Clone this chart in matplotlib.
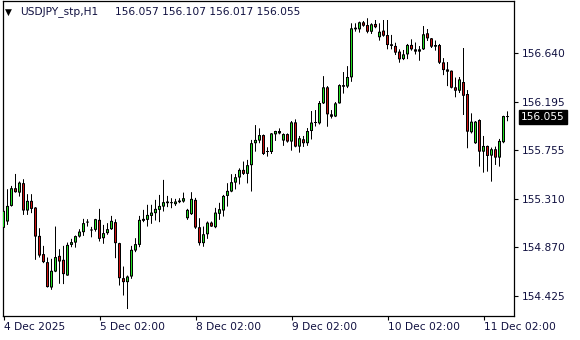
import matplotlib
matplotlib.use('Agg')
import matplotlib.pyplot as plt

# hourly candles, USDJPY_stp H1, 4 Dec 02:00 .. 11 Dec
opens = [155.046, 155.104, 155.246, 155.407, 155.367, 155.453, 155.204, 155.292, 155.231, 154.973,
         154.807, 154.734, 154.503, 154.648, 154.791, 154.755, 154.612, 154.891, 154.912, 154.967,
         155.007, 155.094, 155.022, 155.028, 155.119, 154.952, 154.998, 155.034, 155.098, 154.907,
         154.588, 154.552, 154.603, 154.840, 154.891, 155.110, 155.119, 155.155, 155.180, 155.210,
         155.240, 155.271, 155.271, 155.262, 155.280, 155.286, 155.134, 155.171, 155.301, 155.052,
         154.907, 154.988, 155.094, 155.052, 155.174, 155.204, 155.337, 155.377, 155.458, 155.505,
         155.574, 155.538, 155.617, 155.817, 155.841, 155.891, 155.737, 155.737, 155.898, 155.928,
         155.841, 155.900, 155.832, 156.007, 155.786, 155.853, 155.817, 155.928, 156.001, 155.998,
         156.180, 156.326, 156.080, 156.060, 156.180, 156.331, 156.333, 156.417, 156.854, 156.854,
         156.918, 156.893, 156.832, 156.903, 156.782, 156.842, 156.802, 156.718, 156.703, 156.651,
         156.583, 156.626, 156.712, 156.672, 156.651, 156.672, 156.818, 156.772, 156.711, 156.711,
         156.553, 156.489, 156.477, 156.326, 156.295, 156.374, 156.265, 155.917, 155.817, 156.028,
         155.740, 155.792, 155.704, 155.762, 155.686, 155.826, 156.057]
highs = [155.246, 155.398, 155.428, 155.537, 155.468, 155.489, 155.353, 155.353, 155.235, 155.043,
         154.882, 154.776, 154.764, 155.058, 154.852, 154.882, 154.912, 154.946, 154.976, 155.034,
         155.128, 155.125, 155.055, 155.128, 155.219, 155.073, 155.089, 155.155, 155.124, 154.910,
         154.694, 154.612, 154.882, 154.952, 155.155, 155.210, 155.256, 155.256, 155.301, 155.346,
         155.483, 155.337, 155.316, 155.310, 155.316, 155.367, 155.219, 155.371, 155.319, 155.134,
         155.058, 155.104, 155.104, 155.228, 155.274, 155.346, 155.453, 155.535, 155.537, 155.588,
         155.650, 155.665, 155.847, 155.982, 155.952, 155.896, 155.780, 155.909, 155.930, 155.952,
         155.906, 155.906, 156.019, 156.034, 155.883, 155.883, 155.955, 156.110, 156.119, 156.201,
         156.428, 156.337, 156.119, 156.192, 156.353, 156.465, 156.519, 156.909, 156.909, 156.924,
         156.930, 156.955, 156.909, 156.939, 156.909, 156.939, 156.939, 156.803, 156.732, 156.672,
         156.666, 156.721, 156.763, 156.734, 156.702, 156.884, 156.857, 156.775, 156.752, 156.721,
         156.592, 156.556, 156.479, 156.415, 156.420, 156.684, 156.301, 156.089, 156.019, 156.034,
         155.883, 155.795, 155.777, 155.786, 155.856, 156.067, 156.107]
lows = [155.001, 155.073, 155.240, 155.367, 155.331, 155.164, 155.164, 155.180, 154.755, 154.776,
        154.725, 154.503, 154.482, 154.643, 154.537, 154.534, 154.610, 154.870, 154.866, 154.958,
        154.973, 155.058, 154.960, 155.012, 154.922, 154.901, 154.983, 155.028, 154.770, 154.521,
        154.430, 154.307, 154.582, 154.825, 154.870, 155.098, 155.058, 155.083, 155.113, 155.098,
        155.195, 155.235, 155.225, 155.246, 155.271, 155.276, 155.119, 155.164, 155.037, 154.885,
        154.874, 154.946, 155.055, 155.043, 155.119, 155.149, 155.240, 155.371, 155.396, 155.442,
        155.528, 155.451, 155.377, 155.740, 155.817, 155.710, 155.695, 155.719, 155.838, 155.898,
        155.793, 155.822, 155.749, 155.780, 155.731, 155.783, 155.793, 155.851, 155.969, 155.987,
        156.174, 155.967, 156.042, 156.055, 156.178, 156.269, 156.319, 156.376, 156.833, 156.824,
        156.878, 156.818, 156.812, 156.864, 156.751, 156.787, 156.672, 156.672, 156.620, 156.550,
        156.574, 156.583, 156.660, 156.625, 156.568, 156.666, 156.748, 156.684, 156.660, 156.538,
        156.437, 156.337, 156.316, 156.235, 156.274, 156.074, 155.771, 155.906, 155.811, 155.604,
        155.549, 155.558, 155.467, 155.619, 155.604, 155.817, 156.017]
closes = [155.201, 155.246, 155.407, 155.371, 155.458, 155.204, 155.292, 155.219, 154.967, 154.794,
          154.734, 154.507, 154.655, 154.780, 154.740, 154.625, 154.891, 154.916, 154.971, 155.012,
          155.089, 155.096, 155.024, 155.125, 154.946, 154.998, 155.034, 155.110, 154.907, 154.588,
          154.552, 154.603, 154.846, 154.898, 155.119, 155.128, 155.164, 155.185, 155.219, 155.246,
          155.280, 155.286, 155.273, 155.286, 155.295, 155.316, 155.210, 155.310, 155.049, 154.907,
          154.988, 155.094, 155.058, 155.185, 155.216, 155.337, 155.383, 155.462, 155.507, 155.574,
          155.538, 155.617, 155.817, 155.847, 155.891, 155.719, 155.739, 155.906, 155.928, 155.906,
          155.900, 155.832, 156.007, 155.786, 155.862, 155.817, 155.928, 156.005, 156.010, 156.183,
          156.326, 156.080, 156.058, 156.180, 156.346, 156.346, 156.420, 156.863, 156.869, 156.918,
          156.887, 156.832, 156.900, 156.873, 156.832, 156.796, 156.711, 156.703, 156.642, 156.581,
          156.626, 156.712, 156.672, 156.651, 156.672, 156.809, 156.772, 156.696, 156.696, 156.550,
          156.483, 156.468, 156.322, 156.295, 156.398, 156.249, 155.922, 156.013, 156.013, 155.740,
          155.792, 155.701, 155.762, 155.686, 155.838, 156.064, 156.055]

date_ticks = [0, 24, 48, 72, 96, 120]
date_labels = ['4 Dec 2025', '5 Dec 02:00', '8 Dec 02:00', '9 Dec 02:00', '10 Dec 02:00', '11 Dec 02:00']
price_ticks = [156.640, 156.195, 155.755, 155.310, 154.870, 154.425]

txt_color = '#101040'
bull = '#22DD22'
bear = '#CC1111'
fsize = 7.7

fig = plt.figure(figsize=(5.8, 3.4), dpi=100)
ax = fig.add_axes([2.5/580, 1 - 315.5/340, 511.5/580, 314.5/340])

# 4 px per bar, bar centres on pixel centres
ax.set_xlim(-0.25, 127.625)
ax.set_ylim(154.248, 157.112)
px = (157.112 - 154.248) / 314.5   # price per pixel, used to inset the body fill

n = len(closes)
xs = list(range(n))
ax.vlines(xs, lows, highs, color='black', linewidth=0.72, zorder=2, snap=False)
for i in xs:
    o, c = opens[i], closes[i]
    lo, hi = min(o, c), max(o, c)
    col = bull if c >= o else bear
    # black body (outline), then the coloured core inside it
    ax.bar(i, max(hi - lo, px), bottom=lo, width=0.75, color='black',
           linewidth=0, zorder=3, snap=False)
    if hi - lo > 2.5 * px:
        ax.bar(i, hi - lo - 2 * px, bottom=lo + px, width=0.25, color=col,
               linewidth=0, zorder=4, snap=False)

for s in ax.spines.values():
    s.set_linewidth(0.9)
    s.set_color('black')

ax.yaxis.tick_right()
ax.set_yticks(price_ticks)
ax.set_yticklabels(['%.3f' % p for p in price_ticks])
ax.set_xticks(date_ticks)
ax.set_xticklabels(date_labels)
for lbl in ax.get_xticklabels():
    lbl.set_horizontalalignment('left')
ax.tick_params(axis='both', direction='out', length=3, width=0.8, color='black',
               labelsize=fsize, labelcolor=txt_color)
ax.tick_params(axis='y', pad=3)
ax.tick_params(axis='x', pad=2)

# last price marker on the right scale
ax.annotate('%.3f' % closes[-1], xy=(1, closes[-1]), xycoords=('axes fraction', 'data'),
            xytext=(7, 0), textcoords='offset pixels', va='center', ha='left',
            fontsize=fsize, color='white',
            bbox=dict(boxstyle='square,pad=0.2', fc='black', ec='black'))

# header
fig.text(5/580, 1 - 12/340, '\u25bc', fontsize=6.5, color='black', va='center')
fig.text(20/580, 1 - 12/340, 'USDJPY_stp,H1', fontsize=fsize, color=txt_color, va='center')
fig.text(115/580, 1 - 12/340, '%.3f %.3f %.3f %.3f' % (opens[-1], highs[-1], lows[-1], closes[-1]),
         fontsize=fsize, color=txt_color, va='center')

fig.savefig('out.png', dpi=100)
